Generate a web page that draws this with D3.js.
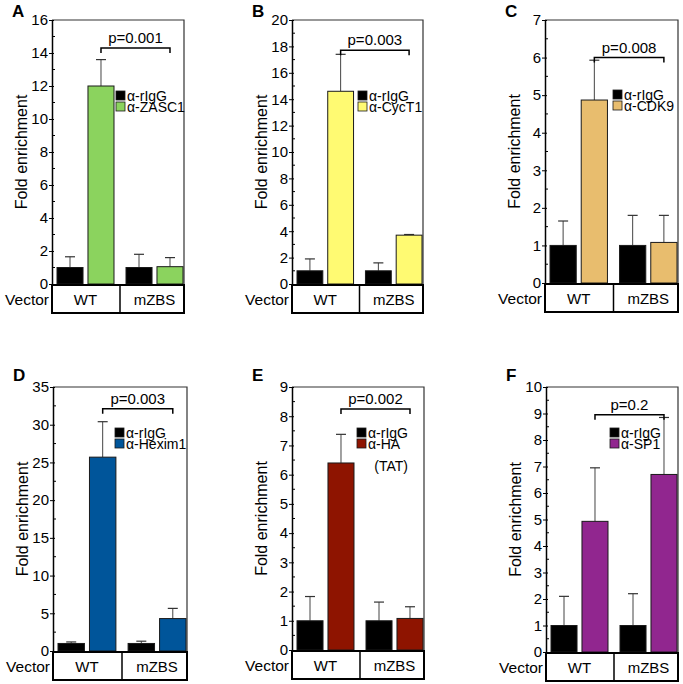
<!DOCTYPE html>
<html>
<head>
<meta charset="utf-8">
<script src="https://cdn.jsdelivr.net/npm/d3@7"></script>
<style>
  html, body { margin: 0; padding: 0; background: #fff; }
  svg { display: block; font-family: "Liberation Sans", Arial, sans-serif; }
</style>
</head>
<body>
<svg id="chart" width="683" height="684"></svg>
<script>
// ---------------- data ----------------
const panelLetters = ["A", "B", "C", "D", "E", "F"];
const groups = ["WT", "mZBS"];
const controlLabel = "α-rIgG";
const antibodyLabels = ["α-ZASC1", "α-CycT1", "α-CDK9", "α-Hexim1", "α-HA", "α-SP1"];
const antibodyNotes = ["", "", "", "", "(TAT)", ""];
const yMaxima = [16, 20, 7, 35, 9, 10];
const yTickSteps = [2, 2, 1, 5, 1, 1];
const controlMeans = [[1, 1], [1, 1], [1, 1], [1, 1], [1, 1], [1, 1]];
const controlErrTops = [[1.65, 1.8], [1.9, 1.6], [1.65, 1.8], [1.2, 1.3], [1.83, 1.64], [2.1, 2.2]];
const antibodyMeans = [[12, 1.05], [14.6, 3.7], [4.87, 1.08], [25.7, 4.3], [6.4, 1.08], [4.93, 6.7]];
const antibodyErrTops = [[13.6, 1.6], [17.4, 3.75], [5.93, 1.8], [30.4, 5.65], [7.38, 1.48], [6.95, 8.85]];
const pLabels = ["p=0.001", "p=0.003", "p=0.008", "p=0.003", "p=0.002", "p=0.2"];
const bracketLevels = [14.3, 17.7, 6.0, 32.1, 8.25, 8.95];
const antibodyColors = ["#8bd35e", "#fffa72", "#e8bd6e", "#00559a", "#8e1400", "#91268f"];
const controlColor = "#000000";
const rowLabel = "Vector";
const yTitle = "Fold enrichment";

// ---------------- layout ----------------
const layouts = [
  { x0: 52,  x1: 184, yTop: 20,  yZero: 284, letterY: 17,  legY: 91 },
  { x0: 292, x1: 423, yTop: 20,  yZero: 284, letterY: 17,  legY: 91 },
  { x0: 545, x1: 678, yTop: 20,  yZero: 283, letterY: 17,  legY: 90 },
  { x0: 53,  x1: 187, yTop: 387, yZero: 651, letterY: 381, legY: 428 },
  { x0: 292, x1: 424, yTop: 387, yZero: 650, letterY: 381, legY: 428 },
  { x0: 546, x1: 678, yTop: 387, yZero: 652, letterY: 381, legY: 428 }
];
const legXOffsets = [64, 66, 68, 62, 65, 64];
const FONT = "\"Liberation Sans\", Arial, sans-serif";

const svg = d3.select("#chart");

layouts.forEach((L, p) => {
  const g = svg.append("g");
  const y = d3.scaleLinear().domain([0, yMaxima[p]]).range([L.yZero, L.yTop]);
  const xg = d3.scaleBand().domain(groups).range([L.x0 + 5, L.x1 - 1]).paddingInner(0.174);
  const xs = d3.scaleBand().domain(["ctrl", "ab"]).range([0, xg.bandwidth()]).paddingInner(0.16);

  // frame (top, right)
  g.append("path")
    .attr("d", `M${L.x0},${L.yTop}H${L.x1}V${L.yZero}`)
    .attr("fill", "none").attr("stroke", "#333").attr("stroke-width", 1.2);

  const bars = [];
  groups.forEach((grp, i) => {
    bars.push({ grp, s: "ctrl", v: controlMeans[p][i], e: controlErrTops[p][i], c: controlColor });
    bars.push({ grp, s: "ab", v: antibodyMeans[p][i], e: antibodyErrTops[p][i], c: antibodyColors[p] });
  });

  // error bars (upper only)
  const eb = g.selectAll("g.err").data(bars).join("g").attr("class", "err");
  eb.append("line")
    .attr("x1", d => xg(d.grp) + xs(d.s) + xs.bandwidth() / 2)
    .attr("x2", d => xg(d.grp) + xs(d.s) + xs.bandwidth() / 2)
    .attr("y1", d => y(d.v)).attr("y2", d => y(d.e))
    .attr("stroke", "#444").attr("stroke-width", 1);
  eb.append("line")
    .attr("x1", d => xg(d.grp) + xs(d.s) + xs.bandwidth() / 2 - 5)
    .attr("x2", d => xg(d.grp) + xs(d.s) + xs.bandwidth() / 2 + 5)
    .attr("y1", d => y(d.e)).attr("y2", d => y(d.e))
    .attr("stroke", "#333").attr("stroke-width", 1.2);

  g.selectAll("rect.bar").data(bars).join("rect").attr("class", "bar")
    .attr("x", d => xg(d.grp) + xs(d.s))
    .attr("width", xs.bandwidth())
    .attr("y", d => y(d.v))
    .attr("height", d => y(0) - y(d.v))
    .attr("fill", d => d.c)
    .attr("stroke", "#1a1a1a").attr("stroke-width", 1);

  // y axis
  const ticks = d3.range(0, yMaxima[p] + 1e-9, yTickSteps[p]);
  const ax = d3.axisLeft(y).tickValues(ticks).tickSize(3).tickSizeOuter(0).tickPadding(1)
    .tickFormat(d3.format("d"));
  const axg = g.append("g").attr("transform", `translate(${L.x0},0)`).call(ax);
  axg.select(".domain").attr("stroke", "#000").attr("stroke-width", 1.5);
  axg.selectAll(".tick line").attr("stroke", "#000").attr("x2", -3).attr("x1", 2);
  axg.selectAll(".tick text").attr("font-family", FONT).attr("font-size", 15).attr("fill", "#000");
  const minor = d3.range(yTickSteps[p] / 2, yMaxima[p], yTickSteps[p]);
  g.selectAll("line.minor").data(minor).join("line").attr("class", "minor")
    .attr("x1", L.x0).attr("x2", L.x0 + 3)
    .attr("y1", d => y(d)).attr("y2", d => y(d))
    .attr("stroke", "#000").attr("stroke-width", 1);

  // y title
  g.append("text")
    .attr("transform", `translate(${L.x0 - 25},${(L.yTop + L.yZero) / 2}) rotate(-90)`)
    .attr("text-anchor", "middle").attr("font-family", FONT).attr("font-size", 16)
    .text(yTitle);

  // panel letter
  g.append("text").attr("x", L.x0 - 40).attr("y", L.letterY)
    .attr("font-family", FONT).attr("font-size", 17).attr("font-weight", "bold")
    .text(panelLetters[p]);

  // label box
  const boxH = 28;
  g.append("rect").attr("x", L.x0).attr("y", L.yZero + 1)
    .attr("width", L.x1 - L.x0).attr("height", boxH)
    .attr("fill", "#fff").attr("stroke", "#000").attr("stroke-width", 2);
  const mid = (xg(groups[0]) + xg.bandwidth() + xg(groups[1])) / 2;
  g.append("line").attr("x1", mid).attr("x2", mid)
    .attr("y1", L.yZero + 1).attr("y2", L.yZero + 1 + boxH)
    .attr("stroke", "#000").attr("stroke-width", 1.5);
  g.selectAll("text.grp").data(groups).join("text").attr("class", "grp")
    .attr("x", d => xg(d) + xg.bandwidth() / 2)
    .attr("y", L.yZero + 21)
    .attr("text-anchor", "middle").attr("font-family", FONT).attr("font-size", 15)
    .text(d => d);
  g.append("text").attr("x", L.x0 - 3).attr("y", L.yZero + 21)
    .attr("text-anchor", "end").attr("font-family", FONT).attr("font-size", 15.5)
    .text(rowLabel);

  // significance bracket
  const bx1 = xg(groups[0]) + xs("ab") + xs.bandwidth() / 2;
  const bx2 = xg(groups[1]) + xs("ab") + xs.bandwidth() / 2;
  const by = y(bracketLevels[p]);
  g.append("path")
    .attr("d", `M${bx1},${by + 5}V${by}H${bx2}V${by + 5}`)
    .attr("fill", "none").attr("stroke", "#000").attr("stroke-width", 1.5);
  g.append("text").attr("x", (bx1 + bx2) / 2).attr("y", by - 5)
    .attr("text-anchor", "middle").attr("font-family", FONT).attr("font-size", 15)
    .text(pLabels[p]);

  // legend
  const lx = L.x0 + legXOffsets[p];
  const legItems = [{ t: controlLabel, c: controlColor }, { t: antibodyLabels[p], c: antibodyColors[p] }];
  legItems.forEach((it, i) => {
    g.append("rect").attr("x", lx).attr("y", L.legY + i * 11)
      .attr("width", 9).attr("height", 9)
      .attr("fill", it.c).attr("stroke", "#1a1a1a").attr("stroke-width", 0.8);
    g.append("text").attr("x", lx + 11).attr("y", L.legY + i * 11 + 9.5)
      .attr("font-family", FONT).attr("font-size", 14).text(it.t);
  });
  if (antibodyNotes[p]) {
    g.append("text").attr("x", lx + 51).attr("y", L.legY + 11 + 9.5 + 22)
      .attr("text-anchor", "end").attr("font-family", FONT).attr("font-size", 14)
      .text(antibodyNotes[p]);
  }
});
</script>
</body>
</html>
